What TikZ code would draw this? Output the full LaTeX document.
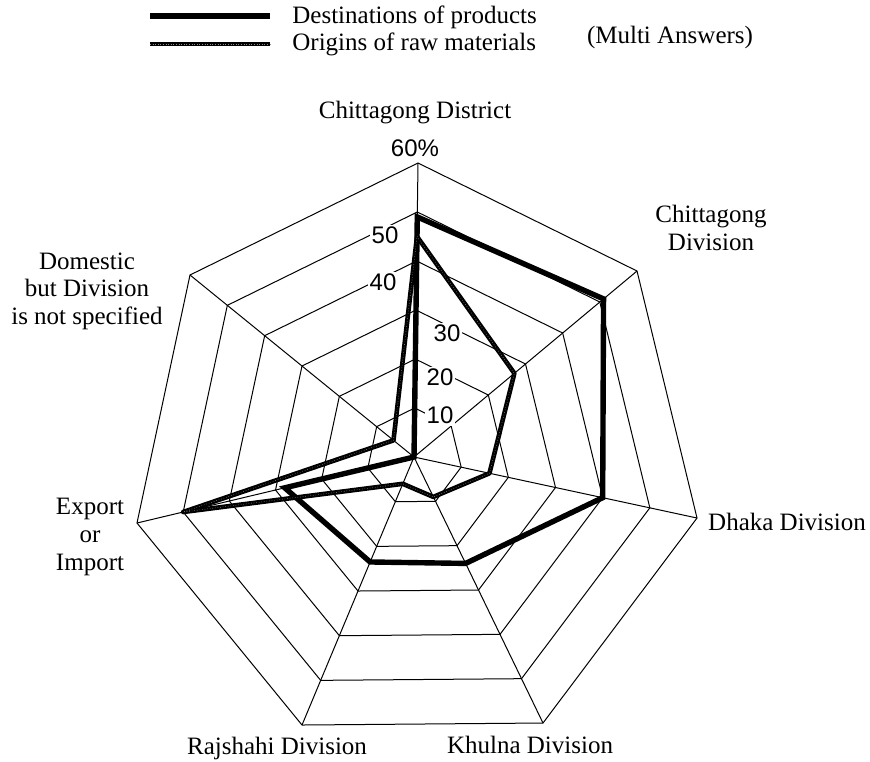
\documentclass[tikz,border=0pt]{standalone}
\usepackage{fontspec}
\setmainfont{Liberation Serif}
\newfontfamily\numfont{Liberation Sans}
\usetikzlibrary{calc}

\tikzset{
  grid line/.style={line width=0.5pt},
  dest line/.style={line width=2.7pt, line join=miter},
  orig line/.style={line width=2.3pt, line join=round,
    postaction={draw=black!45, line width=0.3pt, densely dotted}},
  axis label/.style={font=\fontsize{12.5}{13.8}\selectfont, align=center, inner sep=1pt},
  value label/.style={font=\numfont\fontsize{12}{14}\selectfont, fill=white, inner sep=1pt},
}

\begin{document}
\begin{tikzpicture}[x=0.5pt, y=-0.5pt]
		\useasboundingbox (0,0) rectangle (870,761);
		% centre and corners of the 60% ring
		\coordinate (c) at (414,457);
		\coordinate (v0) at (418,163);
		\coordinate (v1) at (637,271);
		\coordinate (v2) at (697,518);
		\coordinate (v3) at (543,723);
		\coordinate (v4) at (302,725);
		\coordinate (v5) at (137,523);
		\coordinate (v6) at (190,275);
		% rings 10% ... 60%
		\foreach \r in {1,...,6}
		{
			\draw[grid line] ($(c)!\r/6!(v0)$) -- ($(c)!\r/6!(v1)$) -- ($(c)!\r/6!(v2)$)
				-- ($(c)!\r/6!(v3)$) -- ($(c)!\r/6!(v4)$) -- ($(c)!\r/6!(v5)$)
				-- ($(c)!\r/6!(v6)$) -- cycle;
		}
		% spokes
		\foreach \k in {0,...,6}
		{
			\draw[grid line] (c) -- (v\k);
		}
		% scale
		\node[value label] (p60) at (415,148) {60\%};
		\node[value label] (p50) at (385,235) {50};
		\node[value label] (p40) at (383,282) {40};
		\node[value label] (p30) at (447,333) {30};
		\node[value label] (p20) at (440,377) {20};
		\node[value label] (p10) at (440,415) {10};
		% destinations of products
		\foreach \k/\v in {0/49,1/51,2/40,3/24,4/23.5,5/28,6/0}
		{
			\coordinate (d\k) at ($(c)!\v/60!(v\k)$);
		}
		\draw[dest line] (d0) -- (d1) -- (d2) -- (d3) -- (d4) -- (d5) -- (d6) -- cycle;
		% origins of raw materials
		\foreach \k/\v in {0/45,1/27,2/16,3/9,4/6,5/50,6/5.5}
		{
			\coordinate (o\k) at ($(c)!\v/60!(v\k)$);
		}
		\draw[orig line] (o0) -- (o1) -- (o2) -- (o3) -- (o4) -- (o5) -- (o6) -- cycle;
		% axis labels
		\node[axis label] (cdist) at (415,113) {Chittagong District};
		\node[axis label] (cdiv) at (711,228) {Chittagong\\Division};
		\node[axis label] (dhaka) at (787,522) {Dhaka Division};
		\node[axis label] (khulna) at (530,745) {Khulna Division};
		\node[axis label] (rajshahi) at (277,748) {Rajshahi Division};
		\node[axis label] (export) at (90,537) {Export\\or\\Import};
		\node[axis label] (domestic) at (87,291) {Domestic\\but Division\\is not specified};
		% legend
		\coordinate (ka) at (150,16);
		\coordinate (kb) at (270,16);
		\coordinate (kc) at (150,44);
		\coordinate (kd) at (270,44);
		\draw[dest line] (ka) -- (kb);
		\draw[orig line] (kc) -- (kd);
		\node[axis label, anchor=west] (kdest) at (290,17) {Destinations of products};
		\node[axis label, anchor=west] (korig) at (290,44) {Origins of raw materials};
		\node[axis label] (multi) at (670,37) {(Multi Answers)};
	\end{tikzpicture}
\end{document}
